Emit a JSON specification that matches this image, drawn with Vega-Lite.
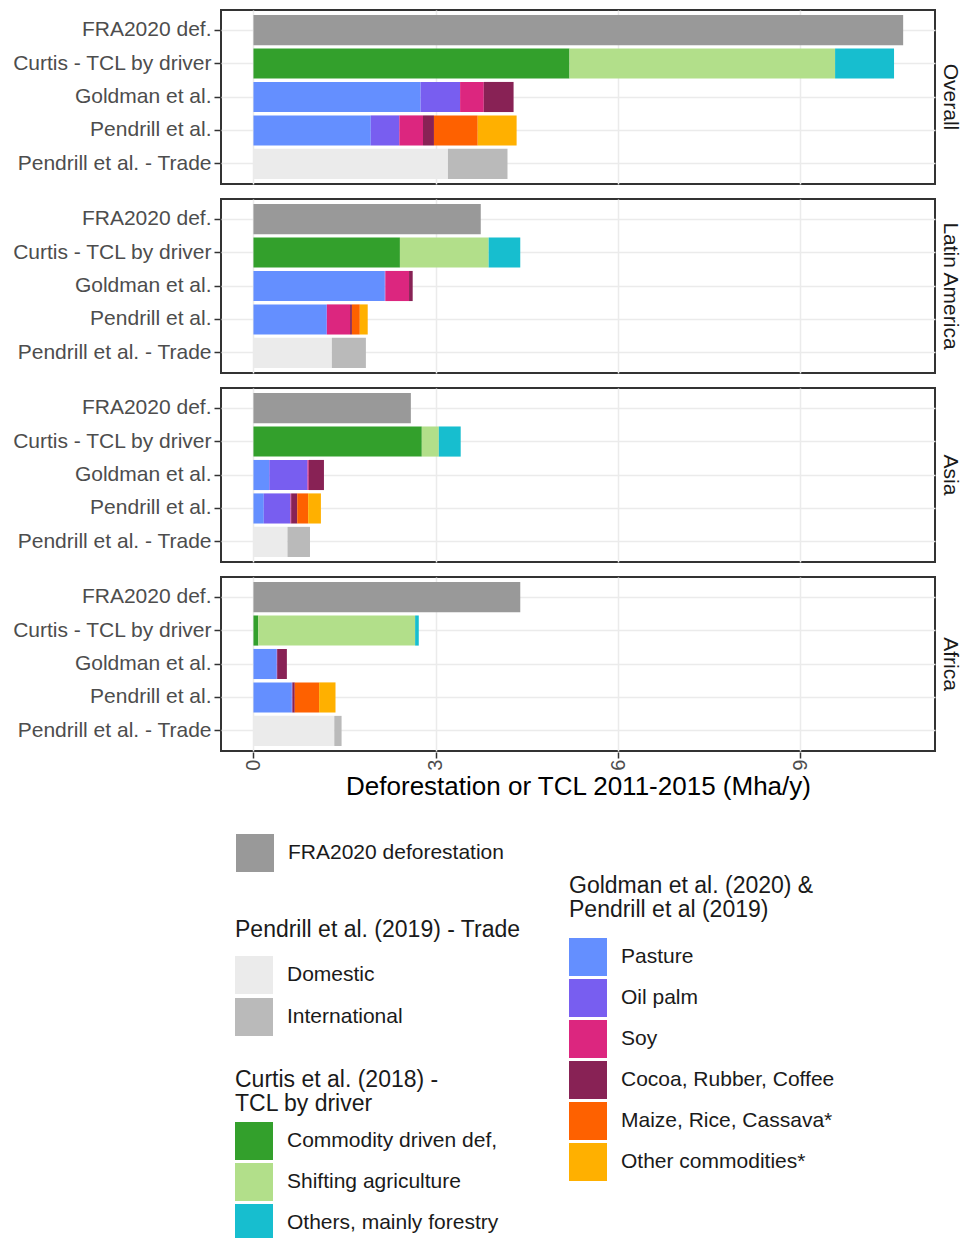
{
  "$schema": "https://vega.github.io/schema/vega-lite/v6.json",
  "background": "white",
  "padding": {"left": 11, "top": 9, "right": 2, "bottom": 0},
  "data": {"values": [
    {"region": "Overall", "source": "FRA2020 def.", "driver": "FRA2020 deforestation", "value": 10.69},
    {"region": "Overall", "source": "Curtis - TCL by driver", "driver": "Commodity driven def,", "value": 5.20},
    {"region": "Overall", "source": "Curtis - TCL by driver", "driver": "Shifting agriculture", "value": 4.37},
    {"region": "Overall", "source": "Curtis - TCL by driver", "driver": "Others, mainly forestry", "value": 0.97},
    {"region": "Overall", "source": "Goldman et al.", "driver": "Pasture", "value": 2.75},
    {"region": "Overall", "source": "Goldman et al.", "driver": "Oil palm", "value": 0.65},
    {"region": "Overall", "source": "Goldman et al.", "driver": "Soy", "value": 0.39},
    {"region": "Overall", "source": "Goldman et al.", "driver": "Cocoa, Rubber, Coffee", "value": 0.49},
    {"region": "Overall", "source": "Pendrill et al.", "driver": "Pasture", "value": 1.93},
    {"region": "Overall", "source": "Pendrill et al.", "driver": "Oil palm", "value": 0.47},
    {"region": "Overall", "source": "Pendrill et al.", "driver": "Soy", "value": 0.39},
    {"region": "Overall", "source": "Pendrill et al.", "driver": "Cocoa, Rubber, Coffee", "value": 0.18},
    {"region": "Overall", "source": "Pendrill et al.", "driver": "Maize, Rice, Cassava*", "value": 0.72},
    {"region": "Overall", "source": "Pendrill et al.", "driver": "Other commodities*", "value": 0.64},
    {"region": "Overall", "source": "Pendrill et al. - Trade", "driver": "Domestic", "value": 3.20},
    {"region": "Overall", "source": "Pendrill et al. - Trade", "driver": "International", "value": 0.98},

    {"region": "Latin America", "source": "FRA2020 def.", "driver": "FRA2020 deforestation", "value": 3.74},
    {"region": "Latin America", "source": "Curtis - TCL by driver", "driver": "Commodity driven def,", "value": 2.41},
    {"region": "Latin America", "source": "Curtis - TCL by driver", "driver": "Shifting agriculture", "value": 1.46},
    {"region": "Latin America", "source": "Curtis - TCL by driver", "driver": "Others, mainly forestry", "value": 0.52},
    {"region": "Latin America", "source": "Goldman et al.", "driver": "Pasture", "value": 2.16},
    {"region": "Latin America", "source": "Goldman et al.", "driver": "Oil palm", "value": 0.01},
    {"region": "Latin America", "source": "Goldman et al.", "driver": "Soy", "value": 0.39},
    {"region": "Latin America", "source": "Goldman et al.", "driver": "Cocoa, Rubber, Coffee", "value": 0.06},
    {"region": "Latin America", "source": "Pendrill et al.", "driver": "Pasture", "value": 1.20},
    {"region": "Latin America", "source": "Pendrill et al.", "driver": "Oil palm", "value": 0.01},
    {"region": "Latin America", "source": "Pendrill et al.", "driver": "Soy", "value": 0.38},
    {"region": "Latin America", "source": "Pendrill et al.", "driver": "Cocoa, Rubber, Coffee", "value": 0.03},
    {"region": "Latin America", "source": "Pendrill et al.", "driver": "Maize, Rice, Cassava*", "value": 0.13},
    {"region": "Latin America", "source": "Pendrill et al.", "driver": "Other commodities*", "value": 0.13},
    {"region": "Latin America", "source": "Pendrill et al. - Trade", "driver": "Domestic", "value": 1.29},
    {"region": "Latin America", "source": "Pendrill et al. - Trade", "driver": "International", "value": 0.56},

    {"region": "Asia", "source": "FRA2020 def.", "driver": "FRA2020 deforestation", "value": 2.59},
    {"region": "Asia", "source": "Curtis - TCL by driver", "driver": "Commodity driven def,", "value": 2.77},
    {"region": "Asia", "source": "Curtis - TCL by driver", "driver": "Shifting agriculture", "value": 0.28},
    {"region": "Asia", "source": "Curtis - TCL by driver", "driver": "Others, mainly forestry", "value": 0.36},
    {"region": "Asia", "source": "Goldman et al.", "driver": "Pasture", "value": 0.26},
    {"region": "Asia", "source": "Goldman et al.", "driver": "Oil palm", "value": 0.63},
    {"region": "Asia", "source": "Goldman et al.", "driver": "Soy", "value": 0.02},
    {"region": "Asia", "source": "Goldman et al.", "driver": "Cocoa, Rubber, Coffee", "value": 0.25},
    {"region": "Asia", "source": "Pendrill et al.", "driver": "Pasture", "value": 0.17},
    {"region": "Asia", "source": "Pendrill et al.", "driver": "Oil palm", "value": 0.44},
    {"region": "Asia", "source": "Pendrill et al.", "driver": "Soy", "value": 0.01},
    {"region": "Asia", "source": "Pendrill et al.", "driver": "Cocoa, Rubber, Coffee", "value": 0.10},
    {"region": "Asia", "source": "Pendrill et al.", "driver": "Maize, Rice, Cassava*", "value": 0.18},
    {"region": "Asia", "source": "Pendrill et al.", "driver": "Other commodities*", "value": 0.21},
    {"region": "Asia", "source": "Pendrill et al. - Trade", "driver": "Domestic", "value": 0.56},
    {"region": "Asia", "source": "Pendrill et al. - Trade", "driver": "International", "value": 0.37},

    {"region": "Africa", "source": "FRA2020 def.", "driver": "FRA2020 deforestation", "value": 4.39},
    {"region": "Africa", "source": "Curtis - TCL by driver", "driver": "Commodity driven def,", "value": 0.08},
    {"region": "Africa", "source": "Curtis - TCL by driver", "driver": "Shifting agriculture", "value": 2.58},
    {"region": "Africa", "source": "Curtis - TCL by driver", "driver": "Others, mainly forestry", "value": 0.06},
    {"region": "Africa", "source": "Goldman et al.", "driver": "Pasture", "value": 0.38},
    {"region": "Africa", "source": "Goldman et al.", "driver": "Oil palm", "value": 0.01},
    {"region": "Africa", "source": "Goldman et al.", "driver": "Cocoa, Rubber, Coffee", "value": 0.16},
    {"region": "Africa", "source": "Pendrill et al.", "driver": "Pasture", "value": 0.63},
    {"region": "Africa", "source": "Pendrill et al.", "driver": "Oil palm", "value": 0.01},
    {"region": "Africa", "source": "Pendrill et al.", "driver": "Cocoa, Rubber, Coffee", "value": 0.04},
    {"region": "Africa", "source": "Pendrill et al.", "driver": "Maize, Rice, Cassava*", "value": 0.40},
    {"region": "Africa", "source": "Pendrill et al.", "driver": "Other commodities*", "value": 0.27},
    {"region": "Africa", "source": "Pendrill et al. - Trade", "driver": "Domestic", "value": 1.33},
    {"region": "Africa", "source": "Pendrill et al. - Trade", "driver": "International", "value": 0.12}
  ]},
  "transform": [
    {"calculate": "indexof(['FRA2020 deforestation','Commodity driven def,','Shifting agriculture','Others, mainly forestry','Pasture','Oil palm','Soy','Cocoa, Rubber, Coffee','Maize, Rice, Cassava*','Other commodities*','Domestic','International'], datum.driver)", "as": "o"},
    {"stack": "value", "groupby": ["region", "source"], "sort": [{"field": "o", "order": "ascending"}], "as": ["x0", "x1"]}
  ],
  "facet": {
    "row": {
      "field": "region", "type": "nominal",
      "sort": ["Overall", "Latin America", "Asia", "Africa"],
      "title": null,
      "header": {"labelOrient": "right", "labelAngle": 90, "labelFontSize": 21, "labelColor": "#1a1a1a", "labelPadding": 4, "labelFont": "Liberation Sans"}
    }
  },
  "spacing": 13,
  "spec": {
    "width": 714,
    "height": 174,
    "encoding": {
      "x": {
        "field": "x0", "type": "quantitative",
        "scale": {"domain": [-0.534, 11.214], "nice": false, "zero": false},
        "axis": {"values": [0, 3, 6, 9], "labelAngle": 270, "labelFontSize": 20, "tickSize": 6, "labelPadding": 1,
                 "title": "Deforestation or TCL 2011-2015 (Mha/y)", "titleFontSize": 26, "titleFontWeight": "normal", "titleColor": "#000000", "titlePadding": 3}
      },
      "x2": {"field": "x1"},
      "y": {
        "field": "source", "type": "nominal",
        "sort": ["FRA2020 def.", "Curtis - TCL by driver", "Goldman et al.", "Pendrill et al.", "Pendrill et al. - Trade"],
        "scale": {"paddingInner": 0.1, "paddingOuter": 0.15},
        "axis": {"title": null, "labelFontSize": 21, "labelLimit": 400, "tickSize": 6, "labelPadding": 3, "bandPosition": 0.5, "grid": true}
      }
    },
    "layer": [
      {
        "transform": [{"filter": "datum.source === 'FRA2020 def.'"}],
        "mark": {"type": "bar", "color": "#999999"},
        "encoding": {
          "opacity": {"field": "driver", "type": "nominal",
            "scale": {"domain": ["FRA2020 deforestation"], "range": [1, 1]},
            "legend": {"title": null, "orient": "none", "legendX": 15, "legendY": 824}}
        }
      },
      {
        "transform": [{"filter": "datum.source === 'Pendrill et al. - Trade' && datum.driver === 'Domestic'"}],
        "mark": {"type": "bar", "color": "#ebebeb", "strokeWidth": 0},
        "encoding": {
          "stroke": {"field": "driver", "type": "nominal",
            "scale": {"domain": ["Domestic"], "range": ["#ebebeb"]},
            "legend": {"title": "Pendrill et al. (2019) - Trade", "orient": "none", "legendX": 14, "legendY": 909, "titlePadding": 14,
              "symbolSize": 361, "symbolStrokeWidth": 19, "symbolFillColor": "transparent"}}
        }
      },
      {
        "transform": [{"filter": "datum.source === 'Pendrill et al. - Trade' && datum.driver === 'International'"}],
        "mark": {"type": "bar", "color": "#bababa"},
        "encoding": {
          "strokeDash": {"field": "driver", "type": "nominal",
            "scale": {"domain": ["International"], "range": [[1, 0]]},
            "legend": {"title": null, "orient": "none", "legendX": 14, "legendY": 988, "symbolStrokeWidth": 0, "symbolStrokeColor": "#bababa", "symbolFillColor": "#bababa", "symbolType": "square"}}
        }
      },
      {
        "transform": [{"filter": "datum.source === 'Curtis - TCL by driver'"}],
        "mark": {"type": "bar"},
        "encoding": {
          "fill": {"field": "driver", "type": "nominal",
            "scale": {"domain": ["Commodity driven def,", "Shifting agriculture", "Others, mainly forestry"], "range": ["#33a02c", "#b2df8a", "#17becf"]},
            "legend": {"title": ["Curtis et al. (2018) -", "TCL by driver"], "orient": "none", "legendX": 14, "legendY": 1059, "titlePadding": 6}}
        }
      },
      {
        "transform": [{"filter": "datum.source === 'Goldman et al.' || datum.source === 'Pendrill et al.'"}],
        "mark": {"type": "bar"},
        "encoding": {
          "color": {"field": "driver", "type": "nominal",
            "scale": {"domain": ["Pasture", "Oil palm", "Soy", "Cocoa, Rubber, Coffee", "Maize, Rice, Cassava*", "Other commodities*"],
                      "range": ["#648fff", "#785ef0", "#dc267f", "#882255", "#fe6100", "#ffb000"]},
            "legend": {"title": ["Goldman et al. (2020) &", "Pendrill et al (2019)"], "orient": "none", "legendX": 348, "legendY": 865, "titlePadding": 16}}
        }
      }
    ]
  },
  "config": {
    "font": "Liberation Sans",
    "view": {"stroke": "#333333", "strokeWidth": 2},
    "axis": {"gridColor": "#ebebeb", "gridWidth": 1.5, "domain": false, "tickColor": "#333333", "tickWidth": 1.5, "labelColor": "#4d4d4d", "labelFont": "Liberation Sans"},
    "legend": {"padding": 0, "symbolType": "square", "symbolSize": 1444, "symbolStrokeWidth": 0, "symbolOpacity": 1, "rowPadding": 3,
               "labelFontSize": 21, "labelOffset": 14, "labelColor": "#1a1a1a", "labelFont": "Liberation Sans",
               "titleFontSize": 23, "titleFontWeight": "normal", "titleColor": "#1a1a1a", "titleFont": "Liberation Sans", "titleLineHeight": 24, "titleLimit": 400, "labelLimit": 400}
  }
}
